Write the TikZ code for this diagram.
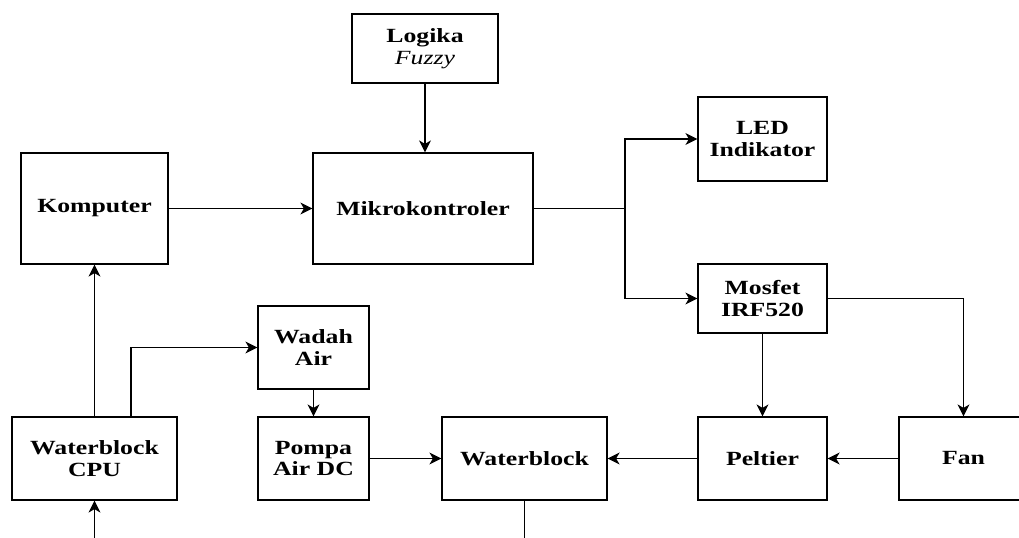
\documentclass[tikz,border=0pt]{standalone}
\usepackage{fontspec}
\setmainfont{Liberation Serif}[FakeStretch=1.28]
\usepackage{tikz}
\usetikzlibrary{arrows.meta}

\begin{document}
\begin{tikzpicture}[
  x=0.025cm, y=-0.025cm,
  line width=0.9pt,
  flow/.style={draw, -{Stealth[length=8.5pt, width=8.5pt, inset=2.5pt]}},
  blk/.style 2 args={draw, align=center, inner sep=0pt,
    minimum width=#1*0.025cm, minimum height=#2*0.025cm,
    font=\fontsize{14.3}{15.6}\selectfont\bfseries}
]
\clip (0,0) rectangle (1019,538);
% blocks
\node[blk={146}{69}] (logika) at (425,48.5) {Logika\\{\mdseries\itshape Fuzzy}};
\node[blk={220}{111}] (mikro) at (423,208.5) {Mikrokontroler};
\node[blk={147}{111}] (komputer) at (94.5,208.5) {Komputer};
\node[blk={129}{84}] (led) at (762.5,139) {LED\\Indikator};
\node[blk={129}{69}] (mosfet) at (762.5,298.5) {Mosfet\\IRF520};
\node[blk={111}{83}] (wadah) at (313.5,347.5) {Wadah\\Air};
\node[blk={165}{83}] (wbcpu) at (94.5,458.5) {Waterblock\\CPU};
\node[blk={111}{83}] (pompa) at (313.5,458.5) {Pompa\\Air DC};
\node[blk={165}{83}] (wb) at (524.5,458.5) {Waterblock};
\node[blk={129}{83}] (peltier) at (762.5,458.5) {Peltier};
\node[blk={129}{83}] (fan) at (963.5,458.5) {Fan};
% free ends
\coordinate (split) at (625,208.5);
\coordinate (cpuout) at (131,417);
\coordinate (cpuin) at (94.5,538);
\coordinate (wbout) at (524.5,538);
% connectors
\draw[flow] (logika.south) -- (logika.south |- mikro.north);
\draw[flow] (komputer.east) -- (mikro.west);
\draw (mikro.east) -- (split);
\draw[flow] (split) |- (led.west);
\draw[flow] (split) |- (mosfet.west);
\draw[flow] (mosfet.east) -| (fan.north);
\draw[flow] (mosfet.south) -- (peltier.north);
\draw[flow] (fan.west) -- (peltier.east);
\draw[flow] (peltier.west) -- (wb.east);
\draw[flow] (pompa.east) -- (wb.west);
\draw[flow] (wadah.south) -- (pompa.north);
\draw[flow] (wbcpu.north) -- (komputer.south);
\draw[flow] (cpuout) |- (wadah.west);
\draw[flow] (cpuin) -- (wbcpu.south);
\draw (wb.south) -- (wbout);
\end{tikzpicture}
\end{document}
